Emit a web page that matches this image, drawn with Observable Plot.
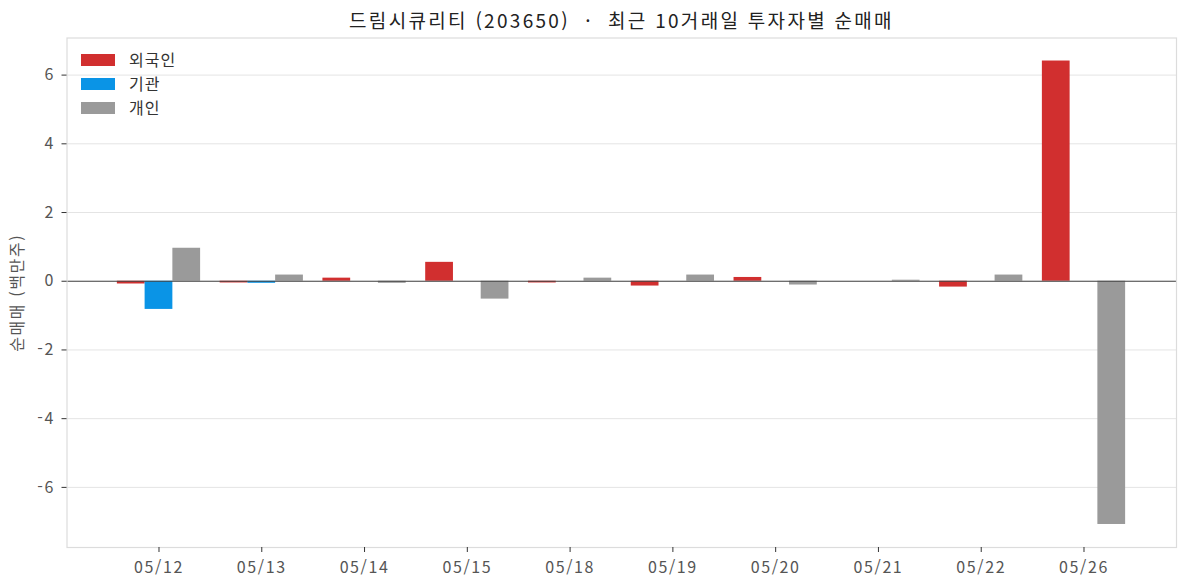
<!DOCTYPE html>
<html lang="ko"><head><meta charset="utf-8">
<script src="https://cdn.jsdelivr.net/npm/d3@7"></script>
<script src="https://cdn.jsdelivr.net/npm/@observablehq/plot@0.6"></script>
<style>
html,body{margin:0;padding:0;background:#fff;}
body{width:1187px;height:587px;overflow:hidden;position:relative;font-family:"Noto Sans CJK KR","Noto Sans",sans-serif;}
#title{height:30px;line-height:39px;width:1109px;margin-left:67px;text-align:center;font-size:19px;letter-spacing:2.3px;color:#222;white-space:pre;box-sizing:border-box;}
#legend{position:absolute;left:81px;top:48px;font-size:16px;letter-spacing:1px;color:#333;line-height:24px;}
#legend div{display:flex;align-items:center;height:24px;}
#legend i{display:block;width:34px;height:12px;margin-right:14px;}
#legend span{position:relative;top:-1px;}
svg{display:block;}
</style></head><body>
<div id="title">드림시큐리티 (203650)  ·  최근 10거래일 투자자별 순매매</div>
<div id="chart"></div>
<div id="legend"></div>
<script>
const dates = ["05/12","05/13","05/14","05/15","05/18","05/19","05/20","05/21","05/22","05/26"];
const foreign = [-0.08,-0.05,0.09,0.55,-0.05,-0.14,0.11,0,-0.17,6.41];
const institution = [-0.82,-0.06,0,0,0,0,0,0,0,0];
const individual = [0.96,0.18,-0.06,-0.52,0.09,0.18,-0.11,0.03,0.18,-7.08];
const seriesNames = ["외국인","기관","개인"];
const seriesColors = ["#d12f2f","#0a94e6","#9a9a9a"];
const yTicks = [-6,-4,-2,0,2,4,6];
const barWidth = 0.27;

const rows = [foreign, institution, individual].flatMap((vals, s) =>
  vals.map((v, i) => ({i, s, v, x1: i + (s - 1) * barWidth - barWidth / 2, x2: i + (s - 1) * barWidth + barWidth / 2})));

const chart = Plot.plot({
  width: 1187, height: 557,
  marginLeft: 66.5, marginRight: 11, marginTop: 7.5, marginBottom: 40,
  style: {fontFamily: '"Noto Sans CJK KR","Noto Sans",sans-serif', fontSize: "16px", letterSpacing: "1.6px", color: "#555", background: "#fff"},
  x: {domain: [-0.895, 9.9], label: null, ticks: d3.range(dates.length), tickFormat: i => dates[i]},
  y: {domain: [-7.75, 7.08], label: "순매매 (백만주)", labelAnchor: "center", labelArrow: "none", ticks: yTicks},
  color: {domain: [0, 1, 2], range: seriesColors},
  marks: [
    Plot.gridY(yTicks, {stroke: "#e4e4e4", strokeOpacity: 1}),
    Plot.rectY(rows, {x1: "x1", x2: "x2", y1: 0, y2: "v", fill: d => d.s, inset: 0}),
    Plot.ruleY([0], {stroke: "#444", strokeWidth: 1.2}),
    Plot.frame({stroke: "#dcdcdc", strokeWidth: 1.2}),
    Plot.axisX({ticks: d3.range(dates.length), tickFormat: i => dates[i], tickSize: 5, tickPadding: 9, stroke: "#333", fill: "#555", label: null, fontSize: 16}),
    Plot.axisY({ticks: yTicks, tickFormat: d => String(d), tickSize: 5, tickPadding: 7, stroke: "#333", fill: "#555", label: "순매매 (백만주)", labelAnchor: "center", labelArrow: "none", labelOffset: 55, fontSize: 16})
  ]
});
document.getElementById("chart").append(chart);
const lg = document.getElementById("legend");
seriesNames.forEach((n, k) => {
  const r = document.createElement("div");
  const sw = document.createElement("i"); sw.style.background = seriesColors[k];
  const t = document.createElement("span"); t.textContent = n;
  r.append(sw, t); lg.append(r);
});
</script></body></html>
